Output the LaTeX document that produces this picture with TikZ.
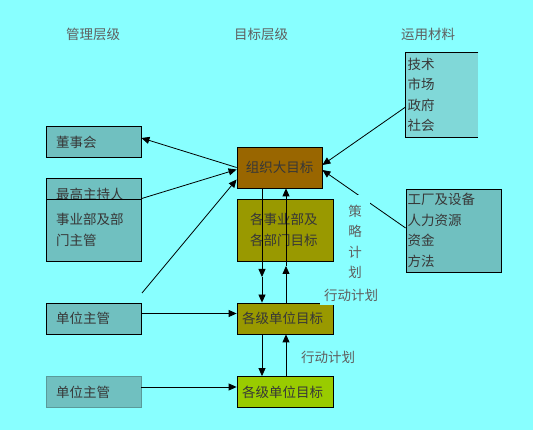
\documentclass[tikz,border=0pt]{standalone}
\usepackage{fontspec}
\setmainfont{Noto Sans CJK SC}
\usetikzlibrary{arrows.meta}
\definecolor{fond}{RGB}{136,255,255}
\definecolor{sarcelle}{RGB}{112,192,192}
\definecolor{clair}{RGB}{128,216,216}
\definecolor{brun}{RGB}{153,102,0}
\definecolor{olive}{RGB}{153,153,0}
\definecolor{vert}{RGB}{153,204,0}
\definecolor{texte}{RGB}{55,55,55}

\begin{document}
\begin{tikzpicture}[x=1pt, y=-1pt]
			\tikzset{boite/.style={draw=black, fill=sarcelle, line width=0.8pt, minimum width=95pt, minimum height=31pt,
				inner ysep=0pt, inner xsep=10pt, text width=75pt, align=left, text=texte, font=\fontsize{13.5}{20.5}\selectfont},
			cible/.style={boite, minimum width=96pt, inner xsep=5pt, text width=86pt},
			titre/.style={text=texte!80, font=\fontsize{13.5}{20.5}\selectfont},
			fleche/.style={-{Triangle[length=8pt, width=7pt]}, line width=0.8pt}};

			\fill[fond] (0, 0) rectangle (533, 430);
			\useasboundingbox (0, 0) rectangle (533, 430);

			\foreach \x/\xtext in {93/管理层级, 261/目标层级, 428/运用材料}{
				\node[titre] (h\x) at (\x, 34) {\xtext};
			}

			% management levels
			\node[boite] (conseil) at (93.5, 142) {董事会};
			\node[boite, minimum height=32pt] (chef) at (93.5, 194) {最高主持人};
			\node[boite, minimum height=62pt] (div) at (93.5, 230) {事业部及部\\门主管\\[3pt]};
			\node[boite] (unite1) at (93.5, 318.5) {单位主管};
			\node[boite, draw=sarcelle!80!black] (unite2) at (93.5, 392) {单位主管};

			% objectives
			\node[cible, fill=brun, minimum width=85pt, minimum height=41pt, text width=75pt, align=center] (org) at (279.5, 167.5) {组织大目标};
			\node[cible, fill=olive, minimum height=62pt, inner xsep=13pt, text width=70pt] (dep) at (285, 230) {各事业部及\\各部门目标\\[3pt]};
			\node[cible, fill=olive] (obj1) at (285, 318.5) {各级单位目标};
			\node[cible, fill=vert] (obj2) at (285, 392) {各级单位目标};

			% materials
			\node[boite, draw=none, fill=clair, minimum width=72pt, minimum height=84pt, inner xsep=1.5pt, text width=69pt] (tech) at (442, 95) {技术\\市场\\政府\\社会};
			\draw[line width=0.8pt] (tech.north east) -- (tech.north west) -- (tech.south west) -- (tech.south east);
			\node[boite, minimum height=83pt, inner xsep=1.5pt, text width=92pt] (usine) at (453.5, 230.5) {工厂及设备\\人力资源\\资金\\方法};

			\coordinate (depart) at (142, 293);
			\coordinate (m1) at (262, 277);
			\coordinate (m2) at (286, 266);

			\draw[fleche] (org.west) -- ([yshift=4pt]conseil.east);
			\draw[fleche] (div.north east) -- ([yshift=-2pt]org.west);
			\draw[fleche] (depart) -- ([yshift=-12pt]org.west);
			\draw[fleche] ([yshift=-12pt]tech.west) -- ([yshift=2.5pt]org.east);
			\draw[fleche] ([yshift=2.5pt]usine.west) -- ([yshift=-2.5pt]org.east);

			\draw[fleche] (m1 |- org.south) -- (m1);
			\draw[fleche] (m1) -- (m1 |- obj1.north);
			\draw[fleche] (m2 |- obj1.north) -- (m2);
			\draw[fleche] (m2) -- (m2 |- org.south);
			\draw[fleche] (m1 |- obj1.south) -- (m1 |- obj2.north);
			\draw[fleche] (m2 |- obj2.north) -- (m2 |- obj1.south);

			\draw[fleche] ([yshift=5pt]unite1.east) -- ([yshift=5pt]obj1.west);
			\draw[fleche] ([yshift=5pt]unite2.east) -- ([yshift=5pt]obj2.west);

			\node[titre, fill=fond, align=center, inner xsep=8pt, inner ysep=10pt] (strat) at (355, 242) {策\\略\\计\\划};
			\node[titre, fill=fond, inner xsep=4pt, inner ysep=4pt] (plan) at (351, 295) {行动计划};
			\node[titre] (action) at (328, 357) {行动计划};

		\end{tikzpicture}
\end{document}
